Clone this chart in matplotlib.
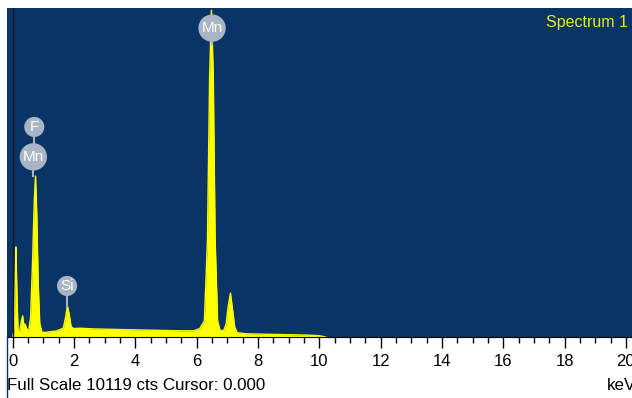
import matplotlib.pyplot as plt
from matplotlib.ticker import MultipleLocator
from matplotlib.lines import Line2D

plt.rcParams['font.family'] = ['Liberation Sans', 'DejaVu Sans']

# spectrum: energy (keV) and counts
energy = [0.00, 0.05, 0.08, 0.10, 0.13, 0.17, 0.22, 0.28, 0.32, 0.36, 0.40, 0.45,
          0.52, 0.58, 0.64, 0.70, 0.74, 0.78, 0.83, 0.88, 0.95, 1.05, 1.20, 1.40,
          1.55, 1.65, 1.72, 1.78, 1.84, 1.90, 1.98, 2.20, 2.60, 3.00, 3.50, 4.00,
          4.50, 5.00, 5.50, 5.90, 6.10, 6.25, 6.35, 6.42, 6.48, 6.54, 6.60, 6.68,
          6.76, 6.88, 6.96, 7.02, 7.10, 7.16, 7.24, 7.32, 7.60, 8.00, 8.50, 9.00,
          9.50, 9.80, 10.00, 10.20]
counts = [0, 300, 1800, 2770, 1500, 200, 150, 500, 650, 350, 400, 250,
          200, 600, 2200, 4200, 4950, 3800, 1600, 400, 150, 140, 160, 180,
          230, 280, 600, 960, 700, 320, 260, 270, 250, 240, 230, 220,
          210, 200, 190, 190, 260, 500, 3000, 8000, 10050, 8000, 3000, 500,
          200, 200, 400, 900, 1350, 900, 300, 130, 100, 90, 80, 70,
          60, 50, 40, 0]

full_scale = 10119

# peak labels: element, energy, counts where the bubble sits, counts of the peak top
label_names = ['Mn', 'F', 'Mn', 'Si']
label_kev = [6.50, 0.70, 0.67, 1.77]
label_cts = [9500, 6460, 5540, 1570]
peak_cts = [9000, 5540, 4950, 960]

W, H = 632, 398
fig = plt.figure(figsize=(W / 100, H / 100), dpi=100)
ax = fig.add_axes([7 / W, (H - 337) / H, (W - 7) / W, (337 - 8) / H])
ax.set_facecolor('#0A3466')

ax.fill_between(energy, counts, color='#FFFF00', lw=0)
ax.plot(energy, counts, color='#FFFF00', lw=1)
ax.axvline(0, color='#111827', lw=1)

for name, x, y, top in zip(label_names, label_kev, label_cts, peak_cts):
    ax.plot([x, x], [y, top], color='#A9B4C4', lw=1.5, zorder=4)
for name, x, y in zip(label_names, label_kev, label_cts):
    ax.text(x, y, name, color='white', fontsize=11, ha='center', va='center', zorder=5,
            bbox=dict(boxstyle='circle,pad=0.2', fc='#A9B4C4', ec='none'))

ax.set_xlim(-0.19, 20.2)
ax.set_ylim(0, full_scale)
ax.xaxis.set_major_locator(MultipleLocator(2))
ax.xaxis.set_minor_locator(MultipleLocator(0.5))
ax.tick_params(axis='x', which='major', length=8, width=1, labelsize=12, pad=4, direction='out')
ax.tick_params(axis='x', which='minor', length=4, width=1, direction='out')
ax.set_yticks([])
for s in ['top', 'right', 'left']:
    ax.spines[s].set_visible(False)
ax.spines['bottom'].set_color('black')

ax.text((546 - 7) / (W - 7), 0.955, 'Spectrum 1', transform=ax.transAxes, color='#E2EE1C',
        fontsize=11.5, ha='left', va='center')

fig.text(7 / W, 1 - 386 / H, 'Full Scale 10119 cts Cursor: 0.000', fontsize=12.2,
         ha='left', va='center')
fig.text(607 / W, 1 - 386 / H, 'keV', fontsize=12.2, ha='left', va='center')
fig.add_artist(Line2D([7 / W, 7 / W], [0, (H - 337) / H], color='#0A3466', lw=1))

fig.savefig('out.png', dpi=100)
